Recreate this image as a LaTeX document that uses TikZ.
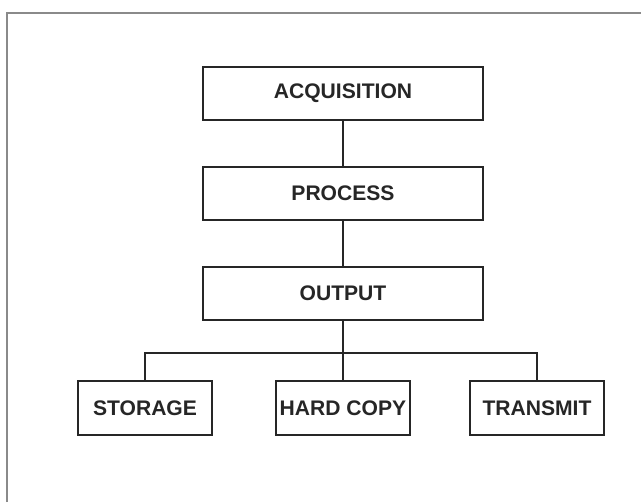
\documentclass[tikz,border=0pt]{standalone}
\usepackage{fontspec}
\setmainfont{Liberation Sans}
\usepackage{xcolor}
\usepackage{tikz}
\usetikzlibrary{positioning,calc}
\definecolor{inkgray}{HTML}{262626}
\definecolor{framegray}{HTML}{8A8A8A}
\tikzset{
  stagebox/.style={draw=inkgray,line width=1.1pt,fill=white,outer sep=0pt,
    minimum width=5.6cm,minimum height=1.06cm,align=center,
    text=inkgray,font=\bfseries\fontsize{12}{14}\selectfont},
  leafbox/.style={stagebox,minimum width=2.68cm,minimum height=1.08cm,inner sep=1pt},
  linkline/.style={draw=inkgray,line width=1.1pt}
}

\begin{document}
\begin{tikzpicture}[node distance=0.94cm and 1.24cm]
\useasboundingbox (0,0) rectangle (12.82,-10.04);
\draw[framegray,line width=0.7pt] (0.14,-10.04) |- (12.82,-0.26);

\node[stagebox] (acq) at (6.86,-1.87) {ACQUISITION};
\node[stagebox, below=of acq] (proc) {PROCESS};
\node[stagebox, below=of proc] (out) {OUTPUT};

\node[leafbox, below=1.22cm of out] (hard) {HARD COPY};
\node[leafbox, left=1.28cm of hard] (store) {STORAGE};
\node[leafbox, right=1.2cm of hard] (send) {TRANSMIT};

\coordinate (bus) at ($(out.south)!0.54!(hard.north)$);

\draw[linkline] (acq) -- (proc);
\draw[linkline] (proc) -- (out);
\draw[linkline] (out) -- (hard);
\draw[linkline] (store) |- (bus) -| (send);
\end{tikzpicture}
\end{document}
